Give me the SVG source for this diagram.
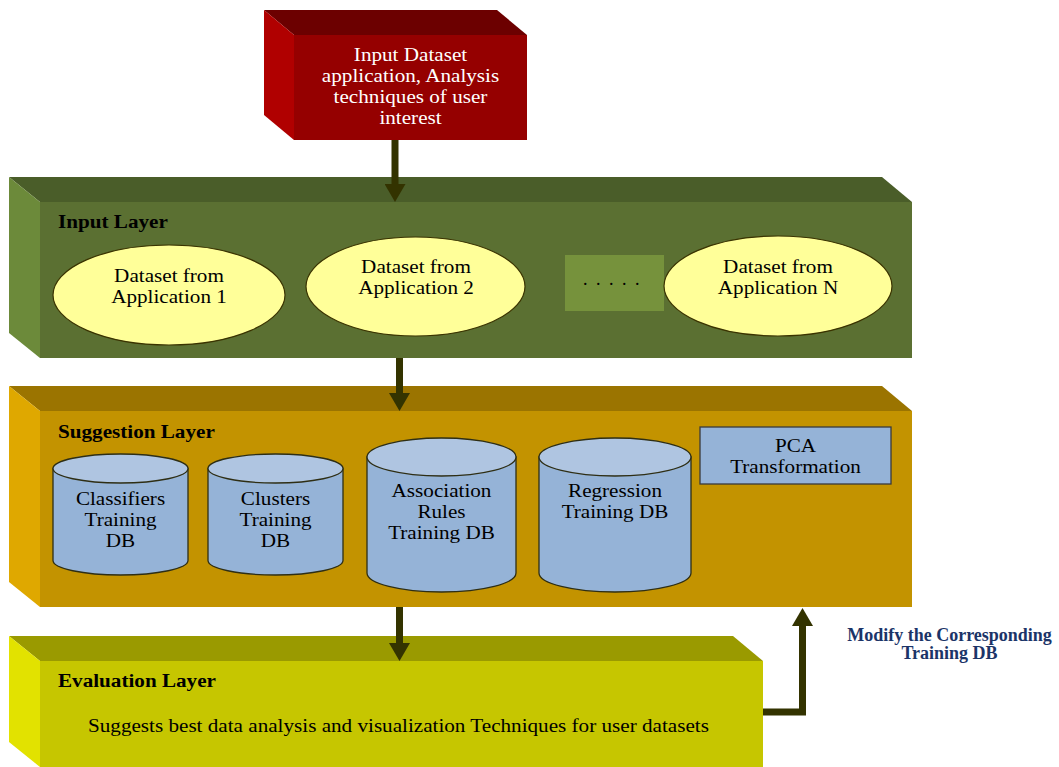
<svg xmlns="http://www.w3.org/2000/svg" width="1059" height="767" viewBox="0 0 1059 767">
<style>
text{font-family:"Liberation Serif","Times New Roman",serif;font-size:18px;fill:#000}
.c{text-anchor:middle}
.b{font-weight:bold}
.w{fill:#ffffff}
.ell{fill:#ffff99;stroke:#3a3300;stroke-width:1.2}
.cylb{fill:#95b3d7;stroke:#2e2e14;stroke-width:1.3}
.cylt{fill:#afc5e1;stroke:#2e2e14;stroke-width:1.3}
.conn{stroke:#333300;stroke-width:7;fill:none}
</style>
<defs>
<marker id="ah" markerUnits="userSpaceOnUse" viewBox="0 0 18 21" refX="0" refY="10.5" markerWidth="18" markerHeight="21" orient="auto">
<path d="M0,0 L18,10.5 L0,21 Z" fill="#333300"/>
</marker>
</defs>
<rect width="1059" height="767" fill="#ffffff"/>

<g id="input-source">
<polygon points="264,10 497,10 527,35 294,35" fill="#6c0000"/>
<polygon points="264,10 294,35 294,140 264,115" fill="#b00000"/>
<rect x="294" y="35" width="233" height="105" fill="#950000"/>
<text class="c w" transform="translate(410.5,61) scale(1.175,1)"><tspan x="0" y="0">Input Dataset</tspan><tspan x="0" y="21">application, Analysis</tspan><tspan x="0" y="42">techniques of user</tspan><tspan x="0" y="63">interest</tspan></text>
</g>

<g id="input-layer">
<polygon points="9,177 882,177 912,202 40,202" fill="#4a5d29"/>
<polygon points="9,177 40,202 40,358 9,333" fill="#6c8a3a"/>
<rect x="40" y="202" width="872" height="156" fill="#5b7032"/>
<text class="b" transform="translate(58,228) scale(1.175,1)">Input Layer</text>
</g>
<g id="app1">
<ellipse class="ell" cx="169" cy="295" rx="116" ry="50"/>
<text class="c" transform="translate(169,282) scale(1.175,1)"><tspan x="0" y="0">Dataset from</tspan><tspan x="0" y="21">Application 1</tspan></text>
</g>
<g id="app2">
<ellipse class="ell" cx="415.5" cy="286.5" rx="109.5" ry="49.5"/>
<text class="c" transform="translate(416,273) scale(1.175,1)"><tspan x="0" y="0">Dataset from</tspan><tspan x="0" y="21">Application 2</tspan></text>
</g>
<g id="dots">
<rect x="565" y="255" width="99" height="56" fill="#76923c"/>
<text x="583" y="285" letter-spacing="2">. . . . .</text>
</g>
<g id="appN">
<ellipse class="ell" cx="778" cy="286" rx="114" ry="50"/>
<text class="c" transform="translate(778,273) scale(1.175,1)"><tspan x="0" y="0">Dataset from</tspan><tspan x="0" y="21">Application N</tspan></text>
</g>

<g id="suggestion-layer">
<polygon points="9,386 882,386 912,411 40,411" fill="#9b7400"/>
<polygon points="9,386 40,411 40,607 9,582" fill="#dfa800"/>
<rect x="40" y="411" width="872" height="196" fill="#c39300"/>
<text class="b" transform="translate(58,438) scale(1.175,1)">Suggestion Layer</text>
</g>
<g id="classifiers-db">
<path class="cylb" d="M53,468.5 L53,560.5 A67.5,14.5 0 0 0 188,560.5 L188,468.5 Z"/>
<ellipse class="cylt" cx="120.5" cy="468.5" rx="67.5" ry="14.5"/>
<text class="c" transform="translate(120.5,505) scale(1.175,1)"><tspan x="0" y="0">Classifiers</tspan><tspan x="0" y="21">Training</tspan><tspan x="0" y="42">DB</tspan></text>
</g>
<g id="clusters-db">
<path class="cylb" d="M208,468.5 L208,560.5 A67.5,14.5 0 0 0 343,560.5 L343,468.5 Z"/>
<ellipse class="cylt" cx="275.5" cy="468.5" rx="67.5" ry="14.5"/>
<text class="c" transform="translate(275.5,505) scale(1.175,1)"><tspan x="0" y="0">Clusters</tspan><tspan x="0" y="21">Training</tspan><tspan x="0" y="42">DB</tspan></text>
</g>
<g id="association-db">
<path class="cylb" d="M367,457 L367,573 A74.5,19 0 0 0 516,573 L516,457 Z"/>
<ellipse class="cylt" cx="441.5" cy="457" rx="74.5" ry="19"/>
<text class="c" transform="translate(441.5,497) scale(1.175,1)"><tspan x="0" y="0">Association</tspan><tspan x="0" y="21">Rules</tspan><tspan x="0" y="42">Training DB</tspan></text>
</g>
<g id="regression-db">
<path class="cylb" d="M539,457 L539,573 A76,19 0 0 0 691,573 L691,457 Z"/>
<ellipse class="cylt" cx="615" cy="457" rx="76" ry="19"/>
<text class="c" transform="translate(615,497) scale(1.175,1)"><tspan x="0" y="0">Regression</tspan><tspan x="0" y="21">Training DB</tspan></text>
</g>
<g id="pca">
<rect x="700" y="427" width="191" height="57" fill="#95b3d7" stroke="#3a3a3a" stroke-width="1.3"/>
<text class="c" transform="translate(795.5,452) scale(1.175,1)"><tspan x="0" y="0">PCA</tspan><tspan x="0" y="21">Transformation</tspan></text>
</g>

<g id="evaluation-layer">
<polygon points="9,636 733,636 763,661 40,661" fill="#9a9a00"/>
<polygon points="9,636 40,661 40,767 9,742" fill="#e2e200"/>
<rect x="40" y="661" width="723" height="106" fill="#c6c600"/>
<text class="b" transform="translate(58,687) scale(1.175,1)">Evaluation Layer</text>
<text transform="translate(88,732) scale(1.175,1)">Suggests best data analysis and visualization Techniques for user datasets</text>
</g>

<g id="feedback-label">
<text class="c b" x="949.5" y="641" style="fill:#1b3468">Modify the Corresponding</text>
<text class="c b" x="949.5" y="659" style="fill:#1b3468">Training DB</text>
</g>

<g id="connectors">
<line class="conn" x1="395" y1="140" x2="395" y2="184" marker-end="url(#ah)"/>
<line class="conn" x1="399.5" y1="358" x2="399.5" y2="393" marker-end="url(#ah)"/>
<line class="conn" x1="399.5" y1="607" x2="399.5" y2="643" marker-end="url(#ah)"/>
<path class="conn" d="M763,712 L802.5,712 L802.5,626" marker-end="url(#ah)"/>
</g>
</svg>
